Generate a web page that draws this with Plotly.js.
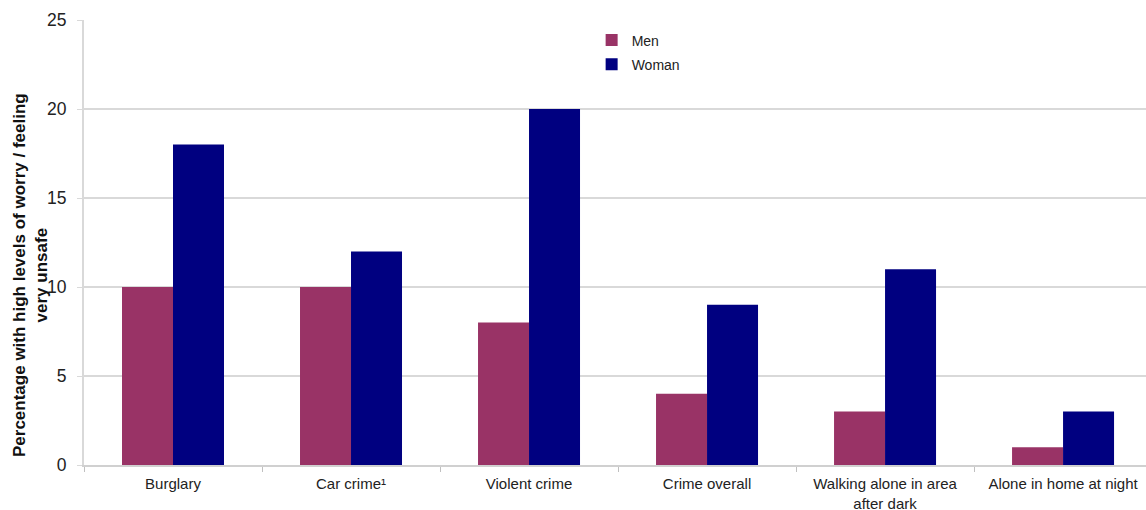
<!DOCTYPE html>
<html>
<head>
<meta charset="utf-8">
<script src="https://cdn.plot.ly/plotly-3.0.1.min.js"></script>
<style>html,body{margin:0;padding:0;background:#fff;}#chart{width:1146px;height:510px;}</style>
</head>
<body>
<div id="chart"></div>
<script>
const categories = ["Burglary", "Car crime¹", "Violent crime", "Crime overall", "Walking alone in area<br>after dark", "Alone in home at night"];
const menValues = [10, 10, 8, 4, 3, 1];
const womanValues = [18, 12, 20, 9, 11, 3];
const yTicks = [0, 5, 10, 15, 20, 25];

const traces = [
  {type: "bar", name: "Men", x: categories, y: menValues, marker: {color: "#993366"}, legendgroup: "a"},
  {type: "bar", name: "Woman", x: categories, y: womanValues, marker: {color: "#000080"}, legendgroup: "b"}
];

const layout = {
  width: 1146, height: 510,
  margin: {l: 84, r: 0, t: 20, b: 45},
  paper_bgcolor: "#fff", plot_bgcolor: "#fff",
  font: {family: "Liberation Sans, Arial, sans-serif", color: "#222", size: 14},
  barmode: "group", bargap: 0.427, bargroupgap: 0,
  xaxis: {
    type: "category", range: [-0.5, 5.466],
    showgrid: false, showline: true, linecolor: "#d0d0d0", linewidth: 2,
    ticks: "outside", tickson: "boundaries", ticklen: 5, tickcolor: "#c0c0c0",
    ticklabelstandoff: 4,
    tickfont: {size: 15, color: "#222"}
  },
  yaxis: {
    range: [0, 25], tickvals: yTicks, showgrid: true, gridcolor: "#d9d9d9", gridwidth: 2,
    showline: true, linecolor: "#d9d9d9", linewidth: 2, zeroline: false,
    ticks: "outside", ticklen: 5, tickcolor: "#d9d9d9",
    ticklabelstandoff: 7,
    tickfont: {size: 17.5, color: "#222"}
  },
  showlegend: true,
  legend: {x: 0.478, y: 0.99, xanchor: "left", yanchor: "top", bgcolor: "rgba(0,0,0,0)",
    font: {size: 14, color: "#222"}, tracegroupgap: 3, itemwidth: 30},
  annotations: [{
    text: "<b>Percentage with high levels of worry / feeling<br>very unsafe</b>",
    xref: "paper", yref: "paper", x: (30 - 84) / 1062, y: (465 - 275) / 445,
    xanchor: "center", yanchor: "middle", textangle: -90, showarrow: false,
    font: {size: 17, color: "#111"}
  }]
};

Plotly.newPlot("chart", traces, layout, {displayModeBar: false, staticPlot: true});
</script>
</body>
</html>
